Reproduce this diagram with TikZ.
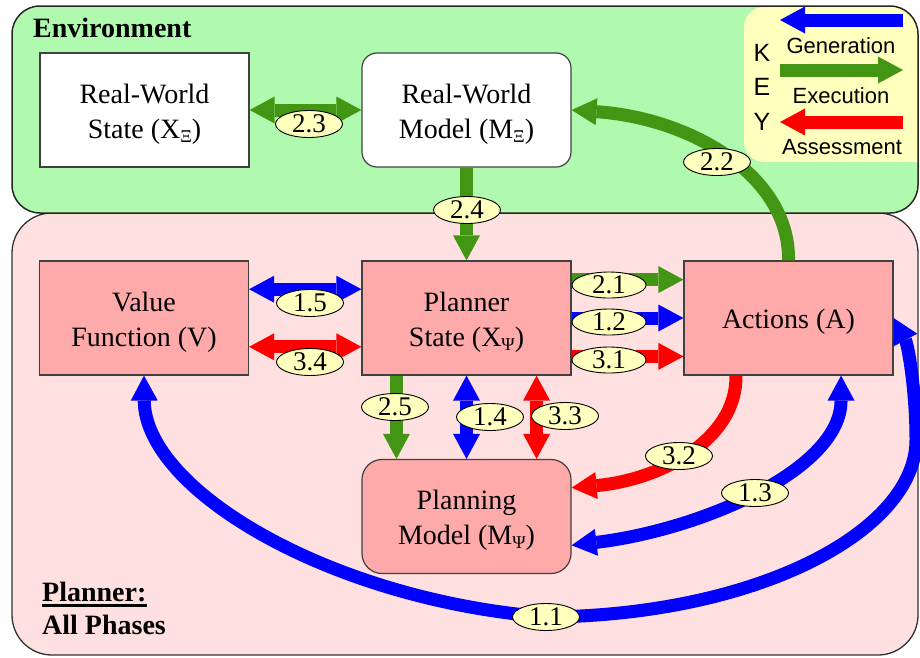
\documentclass[tikz,border=0pt]{standalone}
\usepackage{fontspec}
\setmainfont{Liberation Serif}
\newfontfamily\keyfont{Liberation Sans}
\usetikzlibrary{arrows.meta,shapes.geometric,calc}

\definecolor{envgreen}{RGB}{176,250,176}
\definecolor{plannerpink}{RGB}{255,224,224}
\definecolor{boxpink}{RGB}{255,170,170}
\definecolor{keyyellow}{RGB}{255,255,190}
\definecolor{genblue}{RGB}{0,0,255}
\definecolor{exegreen}{RGB}{66,150,20}
\definecolor{assred}{RGB}{255,0,0}

% small lowered Greek index, e.g. X with subscript Psi
\newcommand\lowsub[1]{\raisebox{-4pt}{\fontsize{18}{18}\selectfont #1}}
% centred block of lines inside a box, with a tall first-line strut so the
% block sits slightly below the middle of the box
\newcommand\boxtext[1]{\begin{tabular}{@{}c@{}}\rule{0pt}{31.5pt}#1\end{tabular}}

\tikzset{
  flow/.style={line width=13pt, line cap=butt},
  gen/.style={flow, draw=genblue},
  exe/.style={flow, draw=exegreen},
  ass/.style={flow, draw=assred},
  stage/.style={draw=black!75, line width=1.2pt, fill=boxpink,
    minimum width=209pt, minimum height=114pt, inner sep=0pt,
    font=\fontsize{28}{35}\selectfont},
  tag/.style={ellipse, draw=black, line width=0.9pt, fill=keyyellow,
    minimum width=67pt, minimum height=27pt, inner sep=0pt,
    font=\fontsize{27}{27}\selectfont},
  widetag/.style={tag, minimum width=74pt, minimum height=26pt},
  keytext/.style={inner sep=0pt, font=\keyfont\fontsize{22}{22}\selectfont},
  keyletter/.style={inner sep=0pt, font=\keyfont\fontsize{25}{25}\selectfont},
  title/.style={inner sep=0pt, font=\bfseries\fontsize{28}{28}\selectfont},
}

\begin{document}
\begin{tikzpicture}[x=1pt, y=-1pt,
  >={Triangle[length=25pt, width=27pt, line width=0pt]}]
\useasboundingbox (0,0) rectangle (920,657);

% --- panels -------------------------------------------------------------
\draw[fill=plannerpink, draw=black!80, line width=1.3pt, rounded corners=40pt]
  (12,213) rectangle (918,655);
\fill[envgreen, rounded corners=28pt] (12,6) rectangle (918,213);
\begin{scope}
  \clip[rounded corners=28pt] (12,6) rectangle (918,213);
  \fill[keyyellow, rounded corners=20pt] (744,7) rectangle (950,162);
\end{scope}
\draw[draw=black!85, line width=1.5pt, rounded corners=28pt]
  (12,6) rectangle (918,213);

\node[title, anchor=base west] (envtitle) at (33,37) {Environment};
\node[title, anchor=base west] (plantitle) at (42,601) {Planner:};
\node[title, anchor=base west] (phases) at (42,634) {All Phases};
\draw[line width=2.2pt] ($(plantitle.base west)+(0,4.5)$) -- ($(plantitle.base east)+(0,4.5)$);

% --- key ----------------------------------------------------------------
\node[keyletter, anchor=base] (keyk) at (762,61) {K};
\node[keyletter, anchor=base] (keye) at (762,95) {E};
\node[keyletter, anchor=base] (keyy) at (762,130) {Y};
\coordinate (kga) at (903,20);  \coordinate (kgb) at (780,20);
\coordinate (kea) at (780,70);  \coordinate (keb) at (903,70);
\coordinate (kaa) at (903,122); \coordinate (kab) at (780,122);
\draw[gen, ->] (kga) -- (kgb);
\draw[exe, ->] (kea) -- (keb);
\draw[ass, ->] (kaa) -- (kab);
\node[keytext, anchor=base] (kgen) at (841,53) {Generation};
\node[keytext, anchor=base] (kexe) at (841,103) {Execution};
\node[keytext, anchor=base] (kass) at (842,154) {Assessment};

% --- boxes --------------------------------------------------------------
\node[stage, fill=white] (rws) at (144.5,110) {\boxtext{Real-World\\State (X\lowsub{Ξ})}};
\node[stage, fill=white, rounded corners=15pt] (rwm) at (466.5,110) {\boxtext{Real-World\\Model (M\lowsub{Ξ})}};
\node[stage] (vf)  at (144,318)   {\boxtext{Value\\Function (V)}};
\node[stage] (ps)  at (466.5,318) {\boxtext{Planner\\State (X\lowsub{Ψ})}};
\node[stage] (act) at (788.5,318) {\boxtext{Actions (A)}};
\node[stage, rounded corners=20pt] (pm) at (466.5,516.5) {\boxtext{Planning\\Model (M\lowsub{Ψ})}};

% --- straight connectors --------------------------------------------------
\draw[exe, <->] (rws) -- (rwm);
\draw[exe, ->] (rwm) -- (ps);
\draw[gen, <->] ($(vf.north east)!0.25!(vf.south east)$) -- ($(ps.north west)!0.25!(ps.south west)$);
\draw[ass, <->] ($(vf.north east)!0.75!(vf.south east)$) -- ($(ps.north west)!0.75!(ps.south west)$);
\draw[exe, ->] ($(ps.north east)!0.1667!(ps.south east)$) -- ($(act.north west)!0.1667!(act.south west)$);
\draw[gen, ->] (ps.east) -- (act.west);
\draw[ass, ->] ($(ps.north east)!0.8333!(ps.south east)$) -- ($(act.north west)!0.8333!(act.south west)$);
\draw[exe, ->] ($(ps.south west)!0.1667!(ps.south east)$) -- ($(pm.north west)!0.1667!(pm.north east)$);
\draw[gen, <->] (ps.south) -- (pm.north);
\draw[ass, <->] ($(ps.south west)!0.8333!(ps.south east)$) -- ($(pm.north west)!0.8333!(pm.north east)$);

% --- curved connectors ----------------------------------------------------
\draw[exe, ->] (act.north) .. controls (790,175) and (690,118) .. (rwm.east);
\draw[ass, ->] ($(act.south west)!0.25!(act.south east)$)
  .. controls (737,440) and (660,480) .. ($(pm.north east)!0.25!(pm.south east)$);
\draw[gen, <->] ($(pm.north east)!0.75!(pm.south east)$)
  .. controls (700,530) and (841,470) .. ($(act.south west)!0.75!(act.south east)$);
\coordinate (b11) at (547,617);
\coordinate (r11) at (916,440);
\draw[gen, <->] (vf.south) .. controls (145,490) and (330,600) .. (b11)
  .. controls (760,615) and (916,530) .. (r11)
  .. controls (916,390) and (908,345) .. (act.east);

% --- step labels ----------------------------------------------------------
\node[tag] (t23) at (309,124) {2.3};
\node[tag] (t24) at (467,210) {2.4};
\node[tag] (t22) at (717,162) {2.2};
\node[tag] (t15) at (310,303) {1.5};
\node[tag] (t34) at (310,362) {3.4};
\node[widetag] (t21) at (609,285) {2.1};
\node[widetag] (t12) at (609,322) {1.2};
\node[widetag] (t31) at (609,360) {3.1};
\node[tag] (t25) at (395,407) {2.5};
\node[tag] (t14) at (490,417) {1.4};
\node[tag] (t33) at (565,416) {3.3};
\node[tag] (t32) at (679,456) {3.2};
\node[tag] (t13) at (755,493) {1.3};
\node[tag] (t11) at (546,617) {1.1};
\end{tikzpicture}
\end{document}
